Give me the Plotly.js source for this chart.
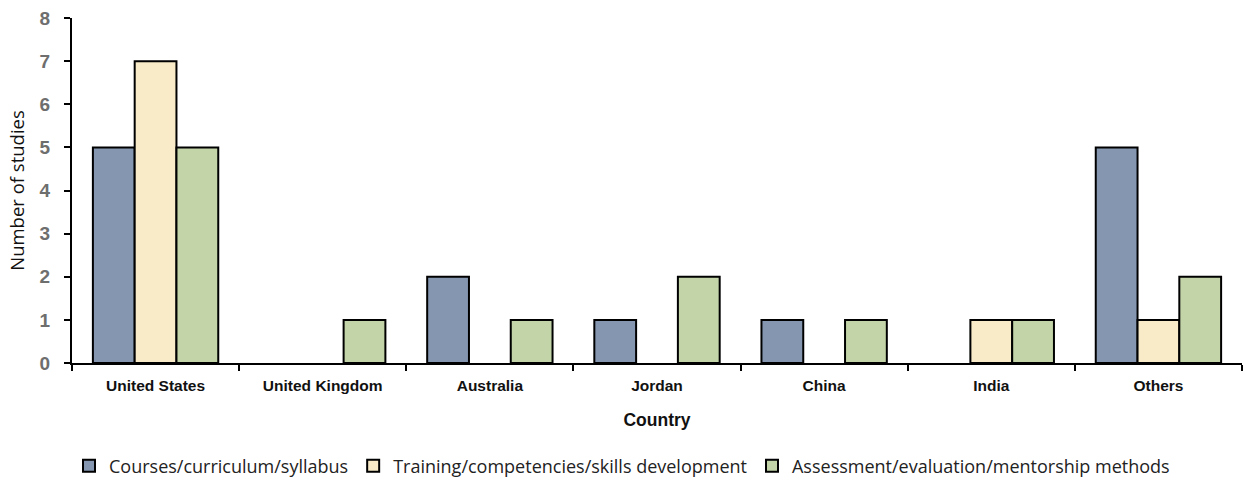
<!DOCTYPE html>
<html><head><meta charset="utf-8">
<script src="https://cdn.plot.ly/plotly-3.0.1.min.js"></script>
<style>html,body{margin:0;padding:0;background:#fff}#chart{width:1244px;height:478px}</style>
</head><body><div id="chart"></div>
<script>
const countries = ["United States","United Kingdom","Australia","Jordan","China","India","Others"];
const courses = [5,0,2,1,1,0,5];
const training = [7,0,0,0,0,1,1];
const assessment = [5,1,1,2,1,1,2];
const seriesNames = ["Courses/curriculum/syllabus","Training/competencies/skills development","Assessment/evaluation/mentorship methods"];
const colors = ["#8496B0","#F9EBC8","#C3D5A8"];
const vals = [courses, training, assessment];
const traces = vals.map((v,i)=>({
  type:'bar', x:countries, y:v.map(d=>d===0?null:d), name:seriesNames[i],
  marker:{color:colors[i], line:{color:'#000', width:2}}
}));
const layout = {
  width:1244, height:478,
  margin:{l:72, r:2, t:18, b:115},
  paper_bgcolor:'#fff', plot_bgcolor:'#fff',
  barmode:'group', bargap:0.25, bargroupgap:0,
  font:{family:'Liberation Sans, Arial, sans-serif', color:'#111'},
  xaxis:{
    automargin:false,
    showline:true, linecolor:'#000', linewidth:2, ticks:'outside', tickson:'boundaries',
    ticklen:6, tickwidth:2, tickcolor:'#000', showgrid:false,
    ticklabelstandoff:7,
    tickfont:{size:15.5, color:'#111', family:'Liberation Sans, Arial, sans-serif', weight:'bold'},
    title:{text:'<b>Country</b>', font:{size:17.5, color:'#111'}, standoff:21}
  },
  yaxis:{
    automargin:false,
    range:[0,8], dtick:1, showline:true, linecolor:'#000', linewidth:2, ticks:'outside',
    ticklen:6, tickwidth:2, tickcolor:'#000', showgrid:false, zeroline:false,
    ticklabelstandoff:10,
    tickfont:{size:19, color:'#6e6e6e', weight:'bold'},
    title:{text:'Number of studies', font:{size:18.5, color:'#111', family:'Open Sans, sans-serif'}, standoff:10}
  },
  legend:{orientation:'h', x:0.5, xref:'container', xanchor:'center', y:0.025, yref:'container', yanchor:'middle',
    font:{size:18, color:'#222', family:'Open Sans, sans-serif'}, itemwidth:30, traceorder:'normal'},
  showlegend:true
};
Plotly.newPlot('chart', traces, layout, {displayModeBar:false, staticPlot:true});
</script></body></html>
